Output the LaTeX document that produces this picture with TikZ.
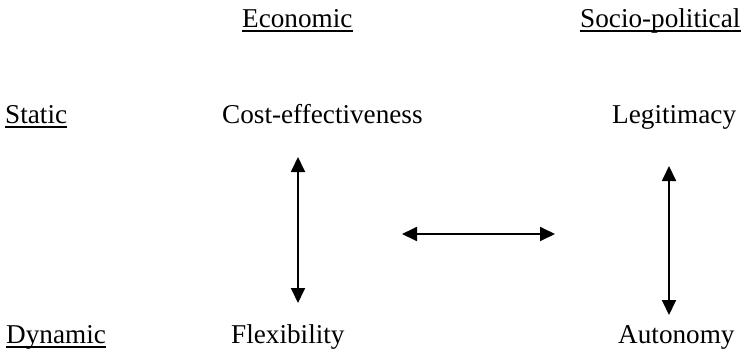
\documentclass[tikz,border=0pt]{standalone}
\usepackage{fontspec}
\setmainfont{Liberation Serif}
\usetikzlibrary{arrows.meta}

\begin{document}
\begin{tikzpicture}[x=1pt,y=-1pt,
  lbl/.style={anchor=base west,inner sep=0pt,font=\fontsize{27.2}{32}\selectfont},
  uline/.style={line width=1.5pt},
  link/.style={line width=1.8pt,{Triangle[length=15pt,width=14pt]}-{Triangle[length=15pt,width=14pt]}}]
  \useasboundingbox (0,0) rectangle (741,351);
  % headings
  \node[lbl] (econ) at (242,27) {Economic\ };
  \node[lbl] (socio) at (580,27) {Socio-political};
  \node[lbl] (static) at (5,123) {Static};
  \node[lbl] (dynamic) at (6,343) {Dynamic};
  \foreach \n in {econ,socio,static,dynamic}
    \draw[uline] ([yshift=-4pt]\n.base west) -- ([yshift=-4pt]\n.base east);
  % the four criteria
  \node[lbl] (cost) at (222,123) {Cost-effectiveness};
  \node[lbl] (legit) at (612,123) {Legitimacy};
  \node[lbl] (flex) at (231,343) {Flexibility};
  \node[lbl] (auton) at (618,343) {Autonomy};
  % trade-offs
  \coordinate (costEnd) at (298,157);  \coordinate (flexEnd) at (298,303);
  \coordinate (legitEnd) at (669,166); \coordinate (autonEnd) at (669,315);
  \coordinate (econSide) at (402,234); \coordinate (socioSide) at (555,234);
  \draw[link] (costEnd) -- (flexEnd);
  \draw[link] (legitEnd) -- (autonEnd);
  \draw[link] (econSide) -- (socioSide);
\end{tikzpicture}
\end{document}
